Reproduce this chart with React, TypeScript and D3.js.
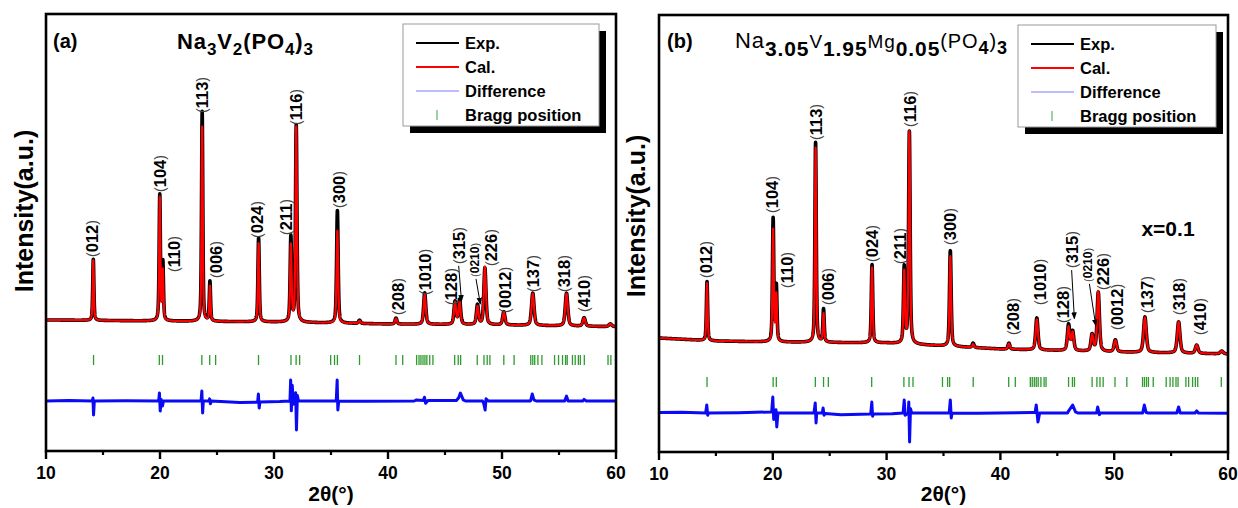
import React from 'react';
import * as d3 from 'd3';

const W = 1238;
const H = 508;
const FONT = "'Liberation Sans', Arial, Helvetica, sans-serif";

// ---------- shared axis values ----------
const xTickValues = [10, 20, 30, 40, 50, 60];
const xMinorTicks = [15, 25, 35, 45, 55];

// ---------- Panel (a): Na3V2(PO4)3 ----------
const peakPosA = [14.15, 19.98, 20.25, 23.7, 24.38, 28.65, 31.48, 31.95, 35.56, 37.5, 40.7, 43.22, 45.88, 46.28, 47.85, 48.5, 50.16, 52.7, 55.66, 57.2, 59.5];
const expHA = [1120, 2300, 1060, 3840, 725, 1535, 1555, 3600, 2060, 60, 110, 575, 415, 450, 360, 1040, 240, 590, 600, 155, 50];
const calHA = [1100, 2250, 900, 3560, 640, 1440, 1400, 3570, 1690, 50, 100, 540, 400, 400, 330, 1060, 230, 580, 590, 150, 50];
const fwhmA = [0.12, 0.13, 0.13, 0.13, 0.13, 0.14, 0.15, 0.15, 0.16, 0.2, 0.2, 0.22, 0.22, 0.22, 0.22, 0.22, 0.24, 0.26, 0.26, 0.26, 0.3];
const baseXA = [10, 20, 30, 40, 50, 60];
const baseYA = [399, 380, 362, 325, 307, 275];
const braggA = [14.17, 19.94, 20.22, 23.67, 24.36, 24.88, 28.64, 31.49, 31.94, 32.25, 34.97, 35.31, 35.56, 37.5, 40.7, 41.29, 42.51, 42.72, 42.89, 43.07, 43.24, 43.41, 43.66, 43.94, 45.85, 46.16, 46.37, 47.83, 48.42, 48.7, 48.94, 50.16, 51.06, 52.52, 52.7, 52.87, 53.15, 53.5, 54.61, 54.96, 55.31, 55.58, 55.72, 56.18, 56.42, 56.7, 56.87, 57.22, 59.3, 59.55];
const braggRowA = -334;
const diffOffsetA = -1085;
const diffA: [number, number][] = [
  [10, 0], [12, 10], [14.05, 0], [14.12, 55], [14.17, -256], [14.24, 0], [17, 5], [19.88, 0], [19.95, 146], [20.02, -183], [20.1, 30], [20.22, -90], [20.3, 0],
  [23.6, 0], [23.67, 183], [23.74, -220], [23.8, 0], [24.3, 0], [24.35, 40], [24.42, -50], [24.5, 0], [27, -25], [28.56, -20], [28.63, 128], [28.7, -128], [28.76, -20],
  [30.5, -10], [31.4, 0], [31.46, 385], [31.52, -180], [31.6, 290], [31.7, -60], [31.9, 150], [31.97, -530], [32.05, 100], [32.15, 0], [35.46, 0], [35.54, 385],
  [35.6, -165], [35.68, 0], [38, -5], [42.3, 0], [42.5, 20], [43.1, 10], [43.2, 70], [43.3, -40], [43.5, 10], [44, 10], [46.0, 10], [46.2, 60], [46.35, 146],
  [46.6, 20], [46.8, 0], [48.3, 0], [48.4, -50], [48.52, -165], [48.6, 40], [48.8, 0], [52.5, 0], [52.65, 128], [52.8, 20], [53, 0], [55.5, 0], [55.66, 90],
  [55.8, 0], [57.1, 0], [57.2, 30], [57.4, 0], [60, 0],
];
const hklA: [string, number, number][] = [
  ['012', 14.0, 1552], ['104', 20.01, 2742], ['110', 21.23, 1277], ['113', 23.66, 4189], ['006', 24.88, 1168], ['024', 28.53, 1900],
  ['211', 31.04, 1955], ['116', 31.94, 3969], ['300', 35.66, 2449], ['208', 40.88, 490], ['1010', 43.21, 856], ['128', 45.57, 673],
  ['315', 46.2, 1424], ['0210', 47.66, 1186], ['226', 49.05, 1387], ['0012', 50.26, 527], ['137', 52.7, 911], ['318', 55.48, 911], ['410', 57.22, 545],
];
const arrowsA: [number, number, number, number][] = [
  [46.2, 1390, 46.45, 740],
  [47.72, 1150, 48.1, 690],
];

// ---------- Panel (b): Na3.05V1.95Mg0.05(PO4)3 ----------
const peakPosB = [14.22, 20.03, 20.31, 23.76, 24.46, 28.72, 31.55, 32.0, 35.6, 37.6, 40.75, 43.2, 45.99, 46.35, 48.06, 48.6, 50.1, 52.7, 55.66, 57.25, 59.45];
const expHB = [1080, 2250, 1010, 3660, 600, 1430, 1390, 3880, 1750, 80, 110, 585, 475, 350, 300, 1080, 220, 650, 570, 150, 50];
const calHB = [1050, 2050, 850, 3560, 520, 1380, 1300, 3880, 1650, 60, 100, 560, 430, 330, 290, 1100, 210, 640, 570, 150, 50];
const fwhmB = [0.13, 0.14, 0.14, 0.14, 0.14, 0.15, 0.16, 0.16, 0.17, 0.2, 0.2, 0.24, 0.24, 0.24, 0.24, 0.24, 0.26, 0.28, 0.28, 0.28, 0.3];
const baseXB = [10, 15, 20, 30, 40, 50, 60];
const baseYB = [387, 332, 314, 296, 186, 131, 95];
const braggB = [14.22, 20.03, 20.31, 23.74, 24.46, 24.88, 28.69, 31.52, 31.97, 32.32, 34.91, 35.36, 35.54, 37.61, 40.73, 41.31, 42.63, 42.8, 42.98, 43.15, 43.32, 43.56, 43.84, 44.01, 45.99, 46.33, 46.51, 48.06, 48.48, 48.75, 49.03, 50.07, 51.11, 52.49, 52.66, 52.84, 53.01, 53.43, 54.57, 54.91, 55.16, 55.43, 55.61, 56.3, 56.54, 56.89, 57.13, 57.34, 59.41];
const braggRowB = -418;
const diffOffsetB = -986;
const diffB: [number, number][] = [
  [10, 10], [12, 15], [14.1, 0], [14.2, 146], [14.28, -40], [14.35, 0], [17, 5], [19.9, 20], [20.0, 293], [20.08, -120], [20.28, 60], [20.35, -256], [20.45, 0],
  [23.62, 0], [23.73, 183], [23.8, -183], [23.86, 0], [24.35, 0], [24.42, 92], [24.5, -40], [24.6, -10], [26, -30], [28.6, -20], [28.7, 200], [28.77, -60],
  [28.85, -20], [30.5, -15], [31.45, 0], [31.55, 238], [31.62, -40], [31.9, 0], [31.95, 200], [32.02, -530], [32.1, 80], [32.2, 0], [35.5, 0], [35.6, 238],
  [35.68, -90], [35.75, 0], [38, -5], [42.8, 10], [43.05, 10], [43.15, 146], [43.3, -165], [43.45, 0], [45.9, 0], [46.0, 40], [46.35, 146], [46.6, 20],
  [46.8, 0], [48.45, 0], [48.55, 110], [48.7, -30], [48.8, 0], [52.5, 0], [52.65, 146], [52.8, 10], [53, 0], [55.5, 0], [55.66, 110], [55.8, 0], [57.1, 0],
  [57.25, 40], [57.4, 0], [60, -5],
];
const hklB: [string, number, number][] = [
  ['012', 14.15, 1486], ['104', 19.97, 2676], ['110', 21.25, 1303], ['113', 23.77, 4013], ['006', 24.88, 992], ['024', 28.69, 1779],
  ['211', 31.18, 1742], ['116', 32.08, 4251], ['300', 35.61, 2090], ['208', 41.07, 442], ['1010', 43.49, 992], ['128', 45.47, 662],
  ['315', 46.26, 1669], ['0210', 47.72, 1413], ['226', 49.03, 1266], ['0012', 50.21, 534], ['137', 52.91, 845], ['318', 55.67, 808], ['410', 57.58, 442],
];
const arrowsB: [number, number, number, number][] = [
  [46.26, 1630, 46.5, 740],
  [47.82, 1380, 48.38, 610],
];

// ---------- helpers ----------
const sampleX = d3.range(10, 60.00001, 0.01);

function pv(d: number, fw: number) {
  const r = (d * d) / (fw * fw);
  const g = Math.exp(-4 * Math.LN2 * r);
  const l = 1 / (1 + 4 * r);
  return 0.5 * g + 0.5 * l;
}

function buildCurve(pos: number[], h: number[], fw: number[], bx: number[], by: number[]): [number, number][] {
  const base = d3.scaleLinear().domain(bx).range(by);
  return sampleX.map((x) => {
    let s = base(x);
    for (let i = 0; i < pos.length; i++) {
      const d = x - pos[i];
      if (Math.abs(d) > 5) continue;
      s += h[i] * pv(d, fw[i]);
    }
    return [x, s] as [number, number];
  });
}

type PanelProps = {
  x0: number; x1: number; y0: number; y1: number; yDomain: [number, number];
  pos: number[]; expH: number[]; calH: number[]; fw: number[]; bx: number[]; by: number[];
  bragg: number[]; braggRow: number; diff: [number, number][]; diffOffset: number;
  hkl: [string, number, number][]; arrows: [number, number, number, number][];
  id: string;
};

function Panel(p: PanelProps) {
  const x = d3.scaleLinear().domain([10, 60]).range([p.x0, p.x1]);
  const y = d3.scaleLinear().domain(p.yDomain).range([p.y1, p.y0]);
  const line = d3.line<[number, number]>().x((d) => x(d[0])).y((d) => y(d[1]));
  const exp = buildCurve(p.pos, p.expH, p.fw, p.bx, p.by);
  const cal = buildCurve(p.pos, p.calH, p.fw, p.bx, p.by);
  const diffPts = p.diff.map((d) => [d[0], d[1] + p.diffOffset] as [number, number]);
  const by = y(p.braggRow);
  return (
    <g>
      <path d={line(exp) || ''} fill="none" stroke="#000" strokeWidth={3.6} strokeLinejoin="round" />
      <path d={line(cal) || ''} fill="none" stroke="#ff0000" strokeWidth={2.2} strokeLinejoin="round" />
      <path d={line(diffPts) || ''} fill="none" stroke="#0a0af5" strokeWidth={3} strokeLinejoin="round" />
      {p.bragg.map((b, i) => (
        <line key={i} x1={x(b)} x2={x(b)} y1={by - 5} y2={by + 5} stroke="#2f9b2f" strokeWidth={1.3} />
      ))}
      {p.hkl.map(([t, hx, hy], i) => {
        const small = t === '0210';
        return (
          <text key={i} transform={`translate(${x(hx)},${y(hy)}) rotate(-90)`} textAnchor="start" dominantBaseline="central"
            fontFamily={FONT} fontWeight="bold" fontSize={small ? 12 : 16.5} fill="#000">
            <tspan fontWeight="normal" fontSize={small ? 11 : 14} fill="#444">(</tspan>{t}<tspan fontWeight="normal" fontSize={small ? 11 : 14} fill="#444">)</tspan>
          </text>
        );
      })}
      {p.arrows.map(([ax, ay, bx2, by2], i) => (
        <line key={i} x1={x(ax)} y1={y(ay)} x2={x(bx2)} y2={y(by2)} stroke="#000" strokeWidth={1} markerEnd={`url(#arr${p.id})`} />
      ))}
      {/* frame */}
      <rect x={p.x0} y={p.y0} width={p.x1 - p.x0} height={p.y1 - p.y0} fill="none" stroke="#000" strokeWidth={2.6} />
      {xTickValues.map((t) => (
        <g key={t}>
          <line x1={x(t)} x2={x(t)} y1={p.y1} y2={p.y1 + 8} stroke="#000" strokeWidth={2.4} />
          <text x={x(t)} y={p.y1 + 22} textAnchor="middle" dominantBaseline="central" fontFamily={FONT} fontWeight="bold" fontSize={17.5}>{t}</text>
        </g>
      ))}
      {xMinorTicks.map((t) => (
        <line key={t} x1={x(t)} x2={x(t)} y1={p.y1} y2={p.y1 + 4} stroke="#000" strokeWidth={2.2} />
      ))}
      <text x={(p.x0 + p.x1) / 2} y={501} textAnchor="middle" fontFamily={FONT} fontWeight="bold" fontSize={21}>2θ(°)</text>
      <defs>
        <marker id={`arr${p.id}`} viewBox="0 0 10 10" refX="9" refY="5" markerWidth="7" markerHeight="7" orient="auto">
          <path d="M0,1 L10,5 L0,9 z" fill="#000" />
        </marker>
      </defs>
    </g>
  );
}

function Legend({ lx, ly, w, h }: { lx: number; ly: number; w: number; h: number }) {
  const rows = [
    { label: 'Exp.', kind: 'line', color: '#000', sw: 2 },
    { label: 'Cal.', kind: 'line', color: '#ff0000', sw: 2 },
    { label: 'Difference', kind: 'line', color: '#7b7bff', sw: 1.2 },
    { label: 'Bragg position', kind: 'tick', color: '#5cb85c', sw: 1.2 },
  ];
  return (
    <g>
      <rect x={lx + 7} y={ly + 7} width={w} height={h} fill="#000" />
      <rect x={lx} y={ly} width={w} height={h} fill="#fff" stroke="#999" strokeWidth={1} />
      {rows.map((r, i) => {
        const ry = ly + 19 + i * 24;
        return (
          <g key={i}>
            {r.kind === 'line' ? (
              <line x1={lx + 13} x2={lx + 56} y1={ry} y2={ry} stroke={r.color} strokeWidth={r.sw} />
            ) : (
              <line x1={lx + 34} x2={lx + 34} y1={ry - 5} y2={ry + 5} stroke={r.color} strokeWidth={r.sw} />
            )}
            <text x={lx + 62} y={ry} dominantBaseline="central" fontFamily={FONT} fontWeight="bold" fontSize={16.5}>{r.label}</text>
          </g>
        );
      })}
    </g>
  );
}

export default function App() {
  return (
    <svg width={W} height={H} style={{ position: 'absolute', left: 0, top: 0, background: '#fff' }} xmlns="http://www.w3.org/2000/svg">
      <rect x={0} y={0} width={W} height={H} fill="#fff" />
      <Panel id="a" x0={46} x1={616} y0={14} y1={451} yDomain={[-2000, 6000]}
        pos={peakPosA} expH={expHA} calH={calHA} fw={fwhmA} bx={baseXA} by={baseYA}
        bragg={braggA} braggRow={braggRowA} diff={diffA} diffOffset={diffOffsetA} hkl={hklA} arrows={arrowsA} />
      <Panel id="b" x0={659} x1={1228} y0={15} y1={452} yDomain={[-1700, 6300]}
        pos={peakPosB} expH={expHB} calH={calHB} fw={fwhmB} bx={baseXB} by={baseYB}
        bragg={braggB} braggRow={braggRowB} diff={diffB} diffOffset={diffOffsetB} hkl={hklB} arrows={arrowsB} />

      <Legend lx={403} ly={24} w={196} h={102} />
      <Legend lx={1018} ly={25} w={198} h={102} />

      <text x={53} y={41} dominantBaseline="central" fontFamily={FONT} fontWeight="bold" fontSize={20}>(a)</text>
      <text x={667} y={41} dominantBaseline="central" fontFamily={FONT} fontWeight="bold" fontSize={20}>(b)</text>

      <text x={177} y={49} fontFamily={FONT} fontSize={22} fontWeight="bold" textLength={136} lengthAdjust="spacing">
        Na<tspan fontSize={17} dy={6}>3</tspan><tspan dy={-6}>V</tspan><tspan fontSize={17} dy={6}>2</tspan><tspan dy={-6}>(PO</tspan><tspan fontSize={17} dy={6}>4</tspan><tspan dy={-6}>)</tspan><tspan fontSize={17} dy={6}>3</tspan>
      </text>
      <text x={735} y={48} fontFamily={FONT} fontSize={22} textLength={272} lengthAdjust="spacing">
        Na<tspan fontSize={21} fontWeight="bold" dy={8}>3.05</tspan><tspan fontSize={19} dy={-8}>V</tspan><tspan fontSize={21} fontWeight="bold" dy={8}>1.95</tspan><tspan fontSize={19} dy={-8}>Mg</tspan><tspan fontSize={21} fontWeight="bold" dy={8}>0.05</tspan><tspan fontSize={20} dy={-8}>(PO</tspan><tspan fontSize={18} fontWeight="bold" dy={6}>4</tspan><tspan fontSize={20} dy={-6}>)</tspan><tspan fontSize={18} fontWeight="bold" dy={6}>3</tspan>
      </text>

      <text x={1168} y={228} textAnchor="middle" dominantBaseline="central" fontFamily={FONT} fontWeight="bold" fontSize={21}>x=0.1</text>

      <text transform="translate(24,211) rotate(-90)" textAnchor="middle" dominantBaseline="central" fontFamily={FONT} fontWeight="bold" fontSize={25}>Intensity(a.u.)</text>
      <text transform="translate(636,216) rotate(-90)" textAnchor="middle" dominantBaseline="central" fontFamily={FONT} fontWeight="bold" fontSize={25}>Intensity(a.u.)</text>
    </svg>
  );
}
